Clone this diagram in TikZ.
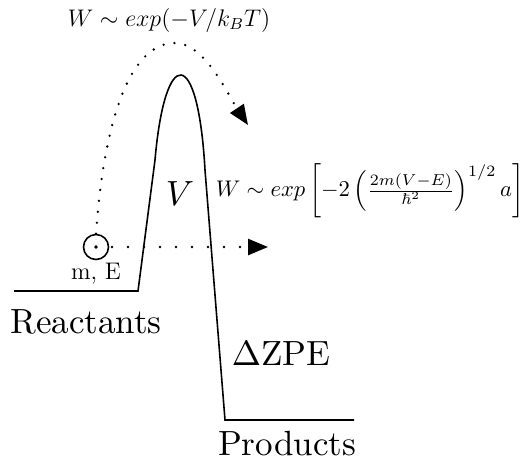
\documentclass[tikz,border=0pt]{standalone}
\usepackage{amsmath,amssymb}
\usepackage{tikz}
\usetikzlibrary{arrows.meta,positioning}

\begin{document}
\begin{tikzpicture}[x=0.5pt, y=-0.5pt, >={Triangle[length=10pt, width=8pt]}]
  \useasboundingbox (0,0) rectangle (523,463);
  \tikzset{dotarrow/.style={->, line width=1.3pt, line cap=round},
           biglabel/.style={scale=1.75}}

  % Energy profile with barrier
  \draw[thick] (14,291) -- (138,291) -- (155,160) .. controls (165,45) and (198,45) .. (205,170) -- (225,420) -- (354,420);

  % Particle m, E
  \node[circle, draw, thick, minimum size=12.5pt, inner sep=0pt] (part) at (96,247) {};
  \fill (part.center) circle (0.9pt);
  \node[font=\large, below=-2pt of part] (mE) {m, E};

  % Hopping over and tunnelling through
  \coordinate (overend) at (248,125);
  \coordinate (tunnelend) at (268,247);
  \draw[dotarrow, dash pattern=on 0pt off 5.5pt] (part.north) .. controls (104,120) and (130,43) .. (175,43) .. controls (205,43) and (228,95) .. (overend);
  \draw[dotarrow, dash pattern=on 0pt off 8pt] (part.center) -- (tunnelend);

  % Rates
  \node[font=\large] (hoprate) at (169,20) {$W \sim exp(-V/k_BT)$};
  \node[scale=1.13] (tunnelrate) at (370,191) {$W \sim exp\left[-2\left(\frac{2m(V-E)}{\hbar^2}\right)^{1/2} a\right]$};

  % Labels
  \node[biglabel] (barrier) at (180,194) {$V$};
  \node[biglabel] (react) at (86,322) {Reactants};
  \node[biglabel] (zpe) at (281,354) {$\Delta$ZPE};
  \node[biglabel] (prod) at (287,444) {Products};
\end{tikzpicture}
\end{document}
